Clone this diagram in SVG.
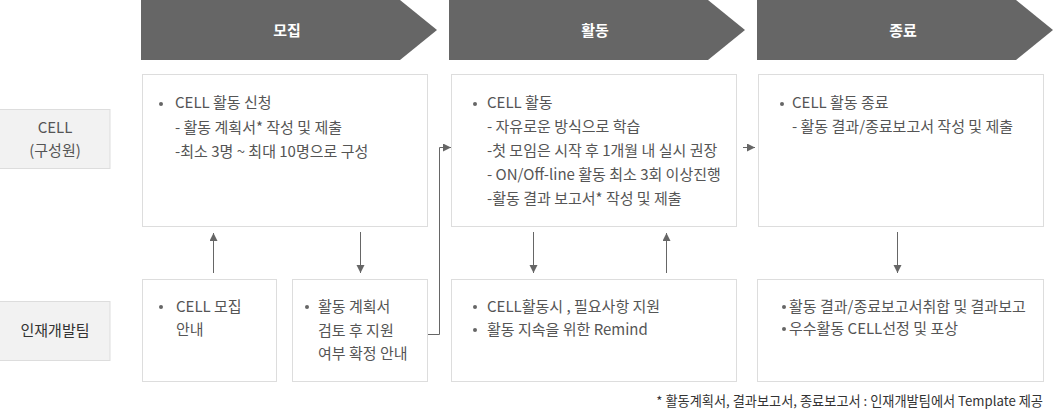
<svg xmlns="http://www.w3.org/2000/svg" width="1055" height="412" viewBox="0 0 1055 412">
<style>
.hdr{fill:#666666}
.hdrtxt{font-family:"Noto Sans CJK KR","Noto Sans",sans-serif;font-size:15px;font-weight:bold;fill:#ffffff;text-anchor:middle}
.box{fill:#ffffff;stroke:#dddddd;stroke-width:1}
.lbl{fill:#f2f2f2;stroke:#dddddd;stroke-width:1}
.lbltxt{font-family:"Noto Sans CJK KR","Noto Sans",sans-serif;font-size:15px;fill:#555555;text-anchor:middle}
.t{font-family:"Noto Sans CJK KR","Noto Sans",sans-serif;font-size:15px;fill:#555555}
.dot{fill:#666666}
.conn{fill:none;stroke:#666666;stroke-width:1}
.foot{font-family:"Noto Sans CJK KR","Noto Sans",sans-serif;font-size:13.2px;fill:#333333;text-anchor:end}
</style>
<defs>
<marker id="ah" markerUnits="userSpaceOnUse" markerWidth="10" markerHeight="10" refX="8" refY="4" orient="auto">
<path d="M0,0 L8,4 L0,8 Z" fill="#666666"/>
</marker>
</defs>

<g id="header-recruit">
<polygon class="hdr" points="141,0 400,0 437,30 400,60 141,60"/>
<text class="hdrtxt" x="287" y="36">모집</text>
</g>
<g id="header-activity">
<polygon class="hdr" points="449,0 708,0 745,30 708,60 449,60"/>
<text class="hdrtxt" x="595" y="36">활동</text>
</g>
<g id="header-end">
<polygon class="hdr" points="757,0 1016,0 1053,30 1016,60 757,60"/>
<text class="hdrtxt" x="903" y="36">종료</text>
</g>

<g id="label-cell">
<rect class="lbl" x="-1" y="109.5" width="111" height="59"/>
<text class="lbltxt" x="55" y="133">CELL</text>
<text class="lbltxt" x="55" y="156">(구성원)</text>
</g>
<g id="label-hrd">
<rect class="lbl" x="-1" y="301.5" width="111" height="59"/>
<text class="lbltxt" x="55" y="336" style="fill:#333333">인재개발팀</text>
</g>

<g id="cell-apply">
<rect class="box" x="142.5" y="74.5" width="285" height="152"/>
<circle class="dot" cx="161" cy="104" r="2"/>
<text class="t" x="175" y="108">CELL 활동 신청</text>
<text class="t" x="175" y="133">- 활동 계획서* 작성 및 제출</text>
<text class="t" x="175" y="157">-최소 3명 ~ 최대 10명으로 구성</text>
</g>

<g id="cell-activity">
<rect class="box" x="451.5" y="74.5" width="285" height="152"/>
<circle class="dot" cx="475" cy="104" r="2"/>
<text class="t" x="487" y="108">CELL 활동</text>
<text class="t" x="487" y="132">- 자유로운 방식으로 학습</text>
<text class="t" x="487" y="156">-첫 모임은 시작 후 1개월 내 실시 권장</text>
<text class="t" x="487" y="180">- ON/Off-line 활동 최소 3회 이상진행</text>
<text class="t" x="487" y="204">-활동 결과 보고서* 작성 및 제출</text>
</g>

<g id="cell-end">
<rect class="box" x="758.5" y="74.5" width="285" height="152"/>
<circle class="dot" cx="782" cy="104" r="2"/>
<text class="t" x="792" y="108">CELL 활동 종료</text>
<text class="t" x="792" y="132">- 활동 결과/종료보고서 작성 및 제출</text>
</g>

<g id="hrd-recruit-info">
<rect class="box" x="142.5" y="279.5" width="134" height="102"/>
<circle class="dot" cx="161" cy="307" r="2"/>
<text class="t" x="176" y="312">CELL 모집</text>
<text class="t" x="176" y="335">안내</text>
</g>

<g id="hrd-plan-review">
<rect class="box" x="292.5" y="279.5" width="135" height="102"/>
<circle class="dot" cx="307" cy="307" r="2"/>
<text class="t" x="318" y="312">활동 계획서</text>
<text class="t" x="318" y="336">검토 후 지원</text>
<text class="t" x="318" y="359">여부 확정 안내</text>
</g>

<g id="hrd-support">
<rect class="box" x="451.5" y="279.5" width="285" height="102"/>
<circle class="dot" cx="475" cy="307" r="2"/>
<text class="t" x="487" y="312">CELL활동시 , 필요사항 지원</text>
<circle class="dot" cx="475" cy="330" r="2"/>
<text class="t" x="487" y="335">활동 지속을 위한 Remind</text>
</g>

<g id="hrd-report">
<rect class="box" x="757.5" y="279.5" width="286" height="102"/>
<circle class="dot" cx="784" cy="307" r="2"/>
<text class="t" x="789" y="312">활동 결과/종료보고서취합 및 결과보고</text>
<circle class="dot" cx="784" cy="329" r="2"/>
<text class="t" x="789" y="334">우수활동 CELL선정 및 포상</text>
</g>

<g id="connectors">
<path class="conn" d="M213.5,273 L213.5,233" marker-end="url(#ah)"/>
<path class="conn" d="M360.5,232 L360.5,273" marker-end="url(#ah)"/>
<path class="conn" d="M428,334.5 L439.5,334.5 L439.5,147.5 L451,147.5" marker-end="url(#ah)"/>
<path class="conn" d="M533.5,232 L533.5,273" marker-end="url(#ah)"/>
<path class="conn" d="M666.5,273 L666.5,233" marker-end="url(#ah)"/>
<path class="conn" d="M743,147.5 L755,147.5" marker-end="url(#ah)"/>
<path class="conn" d="M897.5,232 L897.5,273" marker-end="url(#ah)"/>
</g>

<text class="foot" x="1043" y="406">* 활동계획서, 결과보고서, 종료보고서 : 인재개발팀에서 Template 제공</text>
</svg>
